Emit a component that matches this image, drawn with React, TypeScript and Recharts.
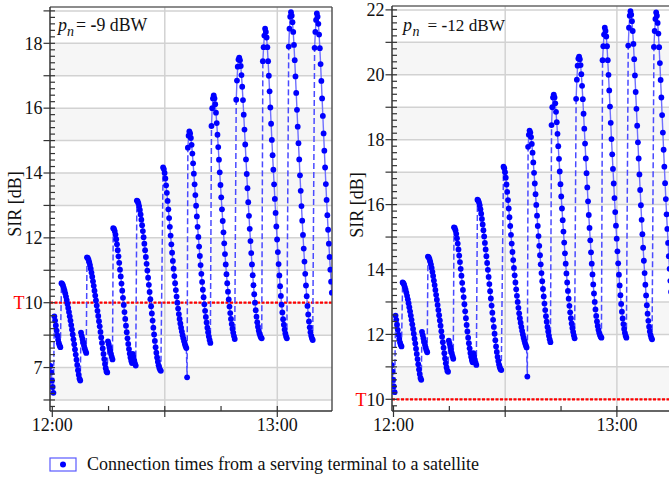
import React from 'react';
import { LineChart, Line, XAxis, YAxis, ReferenceLine, ReferenceArea } from 'recharts';

// ---------- data (SIR in dB, time in minutes after 12:00, one dot every DT minutes) ----------
const DT = 0.2;
const segStarts = [-0.5, 0.55, 2.45, 7.65, 9.25, 14.85, 16.25, 21.45, 22.55, 29.55, 35.95, 36.15, 42.45, 49.05, 56.15, 63.05, 69.95];

// left panel, p_n = -9 dBW
const leftA = [8.05, 7.85, 7.6, 7.4, 7.22];
const leftB = [9.58, 9.45, 9.3, 9.14, 8.99, 8.86, 8.75, 8.68, 8.63];
const leftC = [10.6, 10.58, 10.53, 10.46, 10.38, 10.29, 10.19, 10.08, 9.96, 9.84, 9.71, 9.58, 9.45, 9.31, 9.17, 9.02, 8.87, 8.72, 8.56, 8.4, 8.24, 8.08, 7.92, 7.78, 7.66, 7.6];
const leftD = [9.08, 8.98, 8.88, 8.78, 8.68, 8.59, 8.51, 8.45];
const leftE = [11.4, 11.38, 11.33, 11.25, 11.16, 11.05, 10.93, 10.8, 10.66, 10.52, 10.37, 10.22, 10.07, 9.91, 9.75, 9.59, 9.43, 9.27, 9.1, 8.93, 8.76, 8.59, 8.42, 8.26, 8.11, 7.98, 7.88, 7.85];
const leftF = [8.81, 8.72, 8.62, 8.52, 8.42, 8.33, 8.25];
const leftG = [12.3, 12.28, 12.21, 12.1, 11.96, 11.8, 11.62, 11.43, 11.23, 11.02, 10.81, 10.59, 10.37, 10.15, 9.93, 9.71, 9.5, 9.29, 9.09, 8.9, 8.73, 8.57, 8.43, 8.31, 8.21, 8.14];
const leftH = [8.42, 8.32, 8.22, 8.13, 8.06];
const leftI = [13.15, 13.13, 13.07, 12.98, 12.86, 12.72, 12.56, 12.39, 12.21, 12.02, 11.82, 11.62, 11.41, 11.2, 10.99, 10.77, 10.55, 10.33, 10.11, 9.89, 9.67, 9.45, 9.23, 9.02, 8.82, 8.63, 8.46, 8.31, 8.18, 8.07, 7.99, 7.93, 7.9];
const leftJ = [14.17, 14.12, 14.0, 13.83, 13.62, 13.39, 13.14, 12.88, 12.61, 12.34, 12.07, 11.8, 11.54, 11.29, 11.05, 10.82, 10.6, 10.39, 10.19, 10.0, 9.82, 9.65, 9.5, 9.36, 9.23, 9.11, 9.0, 8.9, 8.81, 8.73, 8.66, 8.6];
const leftK = [7.7];
const leftL = [14.78, 15.15, 15.28, 15.22, 15.08, 14.87, 14.6, 14.3, 13.98, 13.65, 13.32, 12.99, 12.66, 12.34, 12.03, 11.73, 11.44, 11.16, 10.89, 10.64, 10.4, 10.17, 9.95, 9.75, 9.56, 9.39, 9.23, 9.09, 8.96, 8.85, 8.76];
const leftM = [15.45, 16.0, 16.3, 16.39, 16.3, 16.12, 15.86, 15.54, 15.18, 14.8, 14.41, 14.02, 13.63, 13.25, 12.88, 12.52, 12.17, 11.83, 11.5, 11.18, 10.88, 10.6, 10.34, 10.1, 9.88, 9.68, 9.5, 9.34, 9.2, 9.08, 8.97, 8.88];
const leftN = [16.26, 16.85, 17.28, 17.5, 17.56, 17.48, 17.3, 17.02, 16.66, 16.25, 15.8, 15.34, 14.88, 14.42, 13.97, 13.53, 13.1, 12.68, 12.28, 11.9, 11.53, 11.18, 10.85, 10.54, 10.26, 10.0, 9.77, 9.57, 9.4, 9.26, 9.14, 9.05, 8.98, 8.93, 8.9];
const leftO = [17.45, 17.88, 18.24, 18.45, 18.35, 18.18, 17.88, 17.45, 17.0, 16.52, 16.02, 15.52, 15.02, 14.55, 14.1, 13.65, 13.2, 12.77, 12.35, 11.95, 11.56, 11.19, 10.84, 10.51, 10.21, 9.94, 9.7, 9.49, 9.32, 9.17, 9.05, 8.96, 8.9];
const leftP = [17.9, 18.45, 18.82, 18.96, 18.85, 18.65, 18.35, 17.95, 17.48, 16.98, 16.47, 15.95, 15.43, 14.92, 14.42, 13.93, 13.45, 12.98, 12.53, 12.09, 11.67, 11.27, 10.89, 10.53, 10.2, 9.9, 9.64, 9.42, 9.24, 9.09, 8.98, 8.9, 8.85];
const leftQ = [17.86, 18.35, 18.72, 18.92, 18.82, 18.6, 18.27, 17.85, 17.36, 16.84, 16.3, 15.76, 15.22, 14.69, 14.17, 13.66, 13.17, 12.7, 12.25, 11.82, 11.41, 11.02, 10.65, 10.31];

// right panel, p_n = -12 dBW
const rightA = [11.05, 10.85, 10.6, 10.4, 10.22];
const rightB = [12.58, 12.45, 12.3, 12.14, 11.99, 11.86, 11.75, 11.68, 11.63];
const rightC = [13.6, 13.58, 13.53, 13.46, 13.38, 13.29, 13.19, 13.08, 12.96, 12.84, 12.71, 12.58, 12.45, 12.31, 12.17, 12.02, 11.87, 11.72, 11.56, 11.4, 11.24, 11.08, 10.92, 10.78, 10.66, 10.6];
const rightD = [12.08, 11.98, 11.88, 11.78, 11.68, 11.59, 11.51, 11.45];
const rightE = [14.4, 14.38, 14.33, 14.25, 14.16, 14.05, 13.93, 13.8, 13.66, 13.52, 13.37, 13.22, 13.07, 12.91, 12.75, 12.59, 12.43, 12.27, 12.1, 11.93, 11.76, 11.59, 11.42, 11.26, 11.11, 10.98, 10.88, 10.85];
const rightF = [11.81, 11.72, 11.62, 11.52, 11.42, 11.33, 11.25];
const rightG = [15.3, 15.28, 15.21, 15.1, 14.96, 14.8, 14.62, 14.43, 14.23, 14.02, 13.81, 13.59, 13.37, 13.15, 12.93, 12.71, 12.5, 12.29, 12.09, 11.9, 11.73, 11.57, 11.43, 11.31, 11.21, 11.14];
const rightH = [11.42, 11.32, 11.22, 11.13, 11.06];
const rightI = [16.15, 16.13, 16.07, 15.98, 15.86, 15.72, 15.56, 15.39, 15.21, 15.02, 14.82, 14.62, 14.41, 14.2, 13.99, 13.77, 13.55, 13.33, 13.11, 12.89, 12.67, 12.45, 12.23, 12.02, 11.82, 11.63, 11.46, 11.31, 11.18, 11.07, 10.99, 10.93, 10.9];
const rightJ = [17.17, 17.12, 17.0, 16.83, 16.62, 16.39, 16.14, 15.88, 15.61, 15.34, 15.07, 14.8, 14.54, 14.29, 14.05, 13.82, 13.6, 13.39, 13.19, 13.0, 12.82, 12.65, 12.5, 12.36, 12.23, 12.11, 12.0, 11.9, 11.81, 11.73, 11.66, 11.6];
const rightK = [10.7];
const rightL = [17.78, 18.15, 18.28, 18.22, 18.08, 17.87, 17.6, 17.3, 16.98, 16.65, 16.32, 15.99, 15.66, 15.34, 15.03, 14.73, 14.44, 14.16, 13.89, 13.64, 13.4, 13.17, 12.95, 12.75, 12.56, 12.39, 12.23, 12.09, 11.96, 11.85, 11.76];
const rightM = [18.45, 19.0, 19.3, 19.39, 19.3, 19.12, 18.86, 18.54, 18.18, 17.8, 17.41, 17.02, 16.63, 16.25, 15.88, 15.52, 15.17, 14.83, 14.5, 14.18, 13.88, 13.6, 13.34, 13.1, 12.88, 12.68, 12.5, 12.34, 12.2, 12.08, 11.97, 11.88];
const rightN = [19.26, 19.85, 20.28, 20.5, 20.56, 20.48, 20.3, 20.02, 19.66, 19.25, 18.8, 18.34, 17.88, 17.42, 16.97, 16.53, 16.1, 15.68, 15.28, 14.9, 14.53, 14.18, 13.85, 13.54, 13.26, 13.0, 12.77, 12.57, 12.4, 12.26, 12.14, 12.05, 11.98, 11.93, 11.9];
const rightO = [20.45, 20.88, 21.24, 21.45, 21.35, 21.18, 20.88, 20.45, 20.0, 19.52, 19.02, 18.52, 18.02, 17.55, 17.1, 16.65, 16.2, 15.77, 15.35, 14.95, 14.56, 14.19, 13.84, 13.51, 13.21, 12.94, 12.7, 12.49, 12.32, 12.17, 12.05, 11.96, 11.9];
const rightP = [20.9, 21.45, 21.82, 21.96, 21.85, 21.65, 21.35, 20.95, 20.48, 19.98, 19.47, 18.95, 18.43, 17.92, 17.42, 16.93, 16.45, 15.98, 15.53, 15.09, 14.67, 14.27, 13.89, 13.53, 13.2, 12.9, 12.64, 12.42, 12.24, 12.09, 11.98, 11.9, 11.85];
const rightQ = [20.86, 21.35, 21.72, 21.92, 21.82, 21.6, 21.27, 20.85, 20.36, 19.84, 19.3, 18.76, 18.22, 17.69, 17.17, 16.66, 16.17, 15.7, 15.25, 14.82, 14.41, 14.02, 13.65, 13.31];

const leftSegments = [leftA, leftB, leftC, leftD, leftE, leftF, leftG, leftH, leftI, leftJ, leftK, leftL, leftM, leftN, leftO, leftP, leftQ];
const rightSegments = [rightA, rightB, rightC, rightD, rightE, rightF, rightG, rightH, rightI, rightJ, rightK, rightL, rightM, rightN, rightO, rightP, rightQ];

// axis tick labels
const xTickValues = [0, 15, 30, 45, 60];
const xTickLabels: Record<number, string> = { 0: '12:00', 60: '13:00' };
const leftYLabels: [number, string][] = [[8, '7'], [10, 'T10'], [12, '12'], [14, '14'], [16, '16'], [18, '18']];
const rightYLabels: [number, string][] = [[10, 'T10'], [12, '12'], [14, '14'], [16, '16'], [18, '18'], [20, '20'], [22, '22']];
const thresholdSIR = 10;
const legendText = 'Connection times from a serving terminal to a satellite';

// ---------- helpers ----------
const FONT = '"Liberation Serif", "Times New Roman", serif';

type Pt = { t: number; v: number | null };

function build(segs: number[][]) {
  const dots: Pt[] = [];
  const jumps: Pt[] = [];
  segs.forEach((vals, k) => {
    const t0 = segStarts[k];
    vals.forEach((v, i) => dots.push({ t: +(t0 + i * DT).toFixed(3), v }));
    dots.push({ t: +(t0 + (vals.length - 0.5) * DT).toFixed(3), v: null });
    if (k > 0) {
      const prev = segs[k - 1];
      const pt = segStarts[k - 1] + (prev.length - 1) * DT;
      jumps.push({ t: +pt.toFixed(3), v: prev[prev.length - 1] });
      jumps.push({ t: +t0.toFixed(3), v: vals[0] });
      jumps.push({ t: +(t0 + 0.01).toFixed(3), v: null });
    }
  });
  return { dots, jumps };
}

function range(a: number, b: number, step: number) {
  const out: number[] = [];
  for (let v = a; v <= b + 1e-9; v += step) out.push(+v.toFixed(2));
  return out;
}

const XTick = (props: any) => {
  const { x, y, payload } = props;
  const v = payload.value;
  const major = v % 30 === 0;
  const label = xTickLabels[v];
  return (
    <g>
      <line x1={x} x2={x} y1={y - 5} y2={major ? y + 6 : y} stroke="#333" strokeWidth={1.2} />
      {label ? (
        <text x={x} y={y + 20} textAnchor="middle" fontSize={18} fontFamily={FONT} fill="#111">{label}</text>
      ) : null}
    </g>
  );
};

const makeYTick = (labels: [number, string][]) => (props: any) => {
  const { x, y, payload } = props;
  const v = Math.round(payload.value * 10) / 10;
  const isInt = Math.abs(v - Math.round(v)) < 1e-6;
  const lab = labels.find((l) => Math.abs(l[0] - v) < 1e-6);
  return (
    <g>
      <line x1={isInt ? x - 6.5 : x} x2={x + 5} y1={y} y2={y} stroke="#333" strokeWidth={1.2} />
      {lab ? (
        <text x={x - 7.5} y={y} dy="0.35em" textAnchor="end" fontSize={18} fontFamily={FONT} fill="#111">
          {lab[1] === 'T10' ? (
            <>
              <tspan fill="#ff0000">T</tspan>
              <tspan>10</tspan>
            </>
          ) : (
            lab[1]
          )}
        </text>
      ) : null}
    </g>
  );
};

type PanelProps = {
  segs: number[][];
  width: number;
  height: number;
  top: number;
  right: number;
  yAxisWidth: number;
  xDomain: [number, number];
  yDomain: [number, number];
  yLabels: [number, string][];
  bands: number[];
  rightBorder: boolean;
};

function Panel(p: PanelProps) {
  const { dots, jumps } = build(p.segs);
  const yTicks = range(Math.ceil(p.yDomain[0] * 5) / 5, p.yDomain[1], 0.2);
  const gridYs = range(Math.ceil(p.yDomain[0]), Math.floor(p.yDomain[1]), 1);
  return (
    <LineChart width={p.width} height={p.height} margin={{ top: p.top, right: p.right, bottom: 0, left: 0 }}>
      <XAxis
        type="number"
        dataKey="t"
        domain={p.xDomain}
        allowDataOverflow
        ticks={xTickValues}
        interval={0}
        tick={XTick}
        tickLine={false}
        tickSize={0}
        tickMargin={0}
        axisLine={{ stroke: '#333', strokeWidth: 1.5 }}
        height={29}
      />
      <YAxis
        type="number"
        domain={p.yDomain}
        allowDataOverflow
        ticks={yTicks}
        interval={0}
        tick={makeYTick(p.yLabels)}
        tickLine={false}
        tickSize={0}
        tickMargin={0}
        axisLine={{ stroke: '#333', strokeWidth: 1.5 }}
        width={p.yAxisWidth}
      />
      {p.bands.map((b) => (
        <ReferenceArea key={'b' + b} y1={b} y2={b + 1} fill="#f6f6f6" fillOpacity={1} stroke="none" ifOverflow="hidden" />
      ))}
      {gridYs.map((g) => (
        <ReferenceLine key={'g' + g} y={g} stroke="#d2d2d2" strokeWidth={1.5} />
      ))}
      <ReferenceLine x={30} stroke="#d2d2d2" strokeWidth={1.5} />
      <ReferenceLine x={60} stroke="#d2d2d2" strokeWidth={1.5} />
      <ReferenceLine y={thresholdSIR} stroke="#ff0000" strokeWidth={2.2} strokeDasharray="3 1.5" />
      <Line
        data={jumps}
        dataKey="v"
        stroke="#4a4aff"
        strokeWidth={1.5}
        strokeDasharray="6 3"
        dot={false}
        activeDot={false}
        connectNulls={false}
        isAnimationActive={false}
      />
      <Line
        data={dots}
        dataKey="v"
        stroke="#7070ff"
        strokeWidth={1.4}
        dot={{ r: 2.9, fill: '#0000ff', stroke: 'none' }}
        activeDot={false}
        connectNulls={false}
        isAnimationActive={false}
      />
      <ReferenceLine y={p.yDomain[1]} stroke="#666" strokeWidth={1.5} />
      {p.rightBorder ? <ReferenceLine x={p.xDomain[1]} stroke="#555" strokeWidth={1.5} /> : null}
    </LineChart>
  );
}

export default function App() {
  return (
    <div style={{ position: 'absolute', left: 0, top: 0, width: 669, height: 479, overflow: 'hidden', background: '#fff' }}>
      <div style={{ position: 'absolute', left: 0, top: 0 }}>
        <Panel
          segs={leftSegments}
          width={340}
          height={440}
          top={7}
          right={8}
          yAxisWidth={50}
          xDomain={[-0.613, 74.59]}
          yDomain={[6.66, 19.12]}
          yLabels={leftYLabels}
          bands={[7, 9, 11, 13, 15, 17]}
          rightBorder
        />
      </div>
      <div style={{ position: 'absolute', left: 342, top: 0 }}>
        <Panel
          segs={rightSegments}
          width={340}
          height={440}
          top={6}
          right={0}
          yAxisWidth={50}
          xDomain={[-0.403, 77.49]}
          yDomain={[9.64, 22.12]}
          yLabels={rightYLabels}
          bands={[10, 12, 14, 16, 18, 20]}
          rightBorder={false}
        />
      </div>
      <svg width={669} height={479} style={{ position: 'absolute', left: 0, top: 0, pointerEvents: 'none' }} fontFamily={FONT}>
        <text x={58} y={30.7} fontSize={18} fontStyle="italic" fill="#111">p</text>
        <text x={67} y={36} fontSize={14} fontStyle="italic" fill="#111">n</text>
        <text x={76} y={30.7} fontSize={17.8} fill="#111">= <tspan fontWeight="bold">-</tspan>9 dBW</text>
        <text x={403} y={30.7} fontSize={18} fontStyle="italic" fill="#111">p</text>
        <text x={412.5} y={36} fontSize={14} fontStyle="italic" fill="#111">n</text>
        <text x={427.5} y={30.7} fontSize={17.2} fill="#111">= <tspan fontWeight="bold">-</tspan>12 dBW</text>
        <text transform="translate(21,204) rotate(-90)" textAnchor="middle" fontSize={18} fill="#111">SIR [dB]</text>
        <text transform="translate(363,205) rotate(-90)" textAnchor="middle" fontSize={18} fill="#111">SIR [dB]</text>
        <rect x={50} y={458} width={26} height={13} fill="none" stroke="#5a5aff" strokeWidth={1.2} />
        <circle cx={63} cy={464.5} r={3} fill="#0000ff" />
        <text x={87} y={470} fontSize={18} fill="#111">{legendText}</text>
      </svg>
    </div>
  );
}
